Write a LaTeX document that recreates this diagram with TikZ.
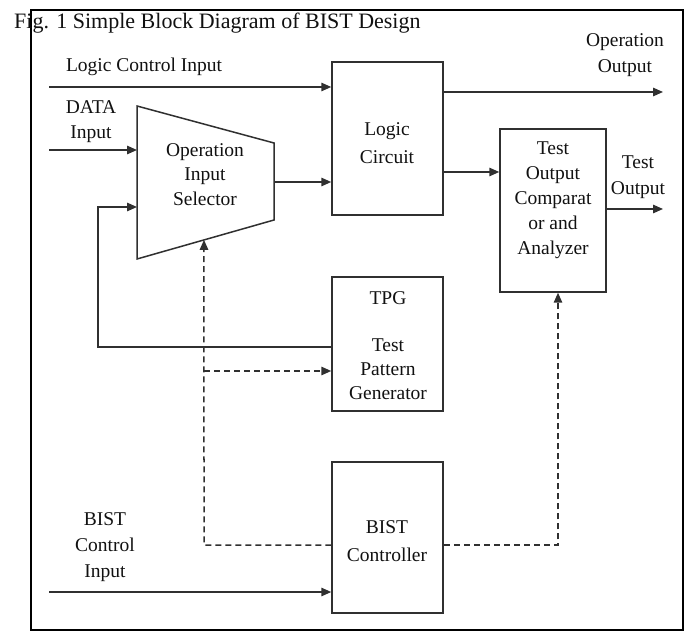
\documentclass[tikz,border=0pt]{standalone}
\usepackage{fontspec}
\setmainfont{Liberation Serif}
\usetikzlibrary{arrows.meta,calc}
\definecolor{ln}{HTML}{303030}
\definecolor{tx}{HTML}{111111}
\begin{document}
\begin{tikzpicture}[x=1pt,y=-1pt,
  blk/.style={draw=ln,line width=1.5pt,fill=white,inner sep=0pt,minimum width=#1},
  blk/.default=111pt,
  wire/.style={draw=ln,line width=1.5pt},
  arr/.style={-{Triangle[length=10pt,width=8.5pt]}},
  dsh/.style={dash pattern=on 6pt off 4pt},
  lbl/.style={text=tx,align=center,inner sep=0pt,font=\fontsize{19.5}{#1}\selectfont},
  lbl/.default=25pt]
\useasboundingbox (0,0) rectangle (686,631);
% frame and title
\draw[draw=black,line width=1.2pt] (31,10) rectangle (683,630);
\node[anchor=base west,inner sep=0pt,text=tx,font=\fontsize{22}{26}\selectfont] (title) at (14,29) {Fig. 1 Simple Block Diagram of BIST Design};
% blocks
\node[blk,minimum height=153pt] (logic) at (387.5,138.5) {};
\node[blk=106pt,minimum height=163pt] (cmp) at (553,210.5) {};
\node[blk,minimum height=134pt] (tpg) at (387.5,344) {};
\node[blk,minimum height=151pt] (ctrl) at (387.5,537.5) {};
% selector trapezoid
\coordinate (sTL) at (137,106);
\coordinate (sTR) at (274,143);
\coordinate (sBR) at (274,220);
\coordinate (sBL) at (137,259);
\draw[wire,fill=white,line join=miter] (sTL) -- (sTR) -- (sBR) -- (sBL) -- cycle;
% labels
\node[lbl=28pt] (logicT) at (387,143) {Logic\\Circuit};
\node[lbl] (cmpT) at (553,200.5) {Test\\Output\\Comparat\\or and\\Analyzer};
\node[lbl=23.75pt] (tpgT) at (388,345.5) {TPG\\[0pt] \\Test\\Pattern\\Generator};
\node[lbl=28pt] (ctrlT) at (387,541) {BIST\\Controller};
\node[lbl=24.5pt] (sel) at (205,174.5) {Operation\\Input\\Selector};
\node[lbl,anchor=base] (lciT) at (144,72) {Logic Control Input};
\node[lbl] (dataT) at (91,121.5) {DATA\\Input};
\node[lbl=26pt] (opT) at (625,55) {Operation\\Output};
\node[lbl=26pt] (toT) at (638,177) {Test\\Output};
\node[lbl=26pt] (bciT) at (105,547) {BIST\\Control\\Input};
% solid connectors
\coordinate (lciS) at (49,87);
\draw[wire,arr] (lciS) -- (lciS -| logic.west);
\coordinate (dataS) at (49,150);
\draw[wire,arr] (dataS) -- (dataS -| sTL);
\coordinate (fbC) at (98,347);
\coordinate (fbT) at (98,207);
\draw[wire,arr] (tpg.west |- fbC) -- (fbC) -- (fbT) -- (fbT -| sTL);
\coordinate (selOut) at (274,182);
\draw[wire,arr] (selOut) -- (selOut -| logic.west);
\coordinate (opE) at (663,92);
\draw[wire,arr] (logic.east |- opE) -- (opE);
\coordinate (lcY) at (450,172);
\draw[wire,arr] (logic.east |- lcY) -- (cmp.west |- lcY);
\coordinate (toE) at (663,209);
\draw[wire,arr] (cmp.east |- toE) -- (toE);
\coordinate (bciS) at (49,592);
\draw[wire,arr] (bciS) -- (bciS -| ctrl.west);
% dashed connectors
\coordinate (dY) at (300,545);
\coordinate (dC) at (204,545);
\coordinate (dB) at (204,371);
\draw[wire,dsh,arr] (ctrl.west |- dY) -- (dC) -- (intersection of sBL--sBR and dC--dB);
\draw[wire,dsh,arr] (dB) -- (dB -| tpg.west);
\coordinate (dR) at (558,545);
\draw[wire,dsh,arr] (ctrl.east |- dY) -- (dR) -- (cmp.south -| dR);
\end{tikzpicture}
\end{document}
